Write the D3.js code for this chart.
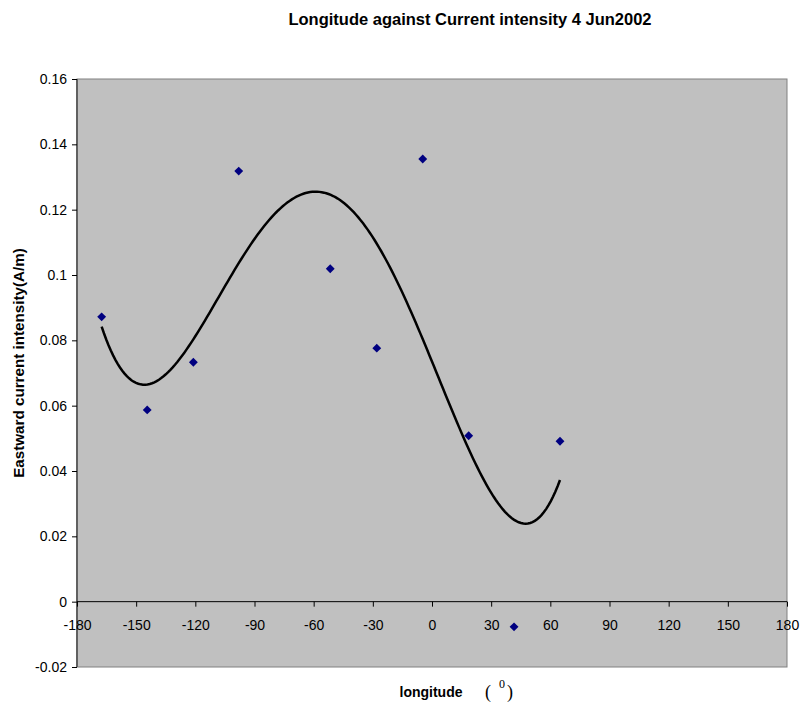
<!DOCTYPE html>
<html><head><meta charset="utf-8">
<script src="https://cdn.jsdelivr.net/npm/d3@7"></script>
<style>body{margin:0;background:#fff}svg{display:block}</style>
</head><body>
<svg id="c" width="801" height="706"></svg>
<script>
const longitudes = [-167.5, -144.4, -121.0, -98.0, -51.6, -28.0, -4.7, 18.6, 41.6, 64.9];
const intensities = [0.0872, 0.0587, 0.0733, 0.1318, 0.1019, 0.0776, 0.1355, 0.0508, -0.0077, 0.0491];
const xTicks = [-180, -150, -120, -90, -60, -30, 0, 30, 60, 90, 120, 150, 180];
const yTicks = [-0.02, 0, 0.02, 0.04, 0.06, 0.08, 0.1, 0.12, 0.14, 0.16];
const trendDegree = 4;

const svg = d3.select("#c");
const L = 77, R = 787, T = 79, B = 667;
const x = d3.scaleLinear().domain([-180, 180]).range([L, R]);
const y = d3.scaleLinear().domain([-0.02, 0.16]).range([B, T]);
const FONT = "'Liberation Sans', Arial, sans-serif";

// plot area
svg.append("rect").attr("x", L).attr("y", T).attr("width", R - L).attr("height", B - T)
  .attr("fill", "#c0c0c0").attr("stroke", "#808080").attr("stroke-width", 1);
svg.append("line").attr("x1", L).attr("x2", L).attr("y1", T).attr("y2", B)
  .attr("stroke", "#606060").attr("stroke-width", 2);

// y axis
const yAx = svg.append("g").attr("transform", `translate(${L},0)`)
  .call(d3.axisLeft(y).tickValues(yTicks).tickSize(5).tickPadding(5)
    .tickFormat(d => d === 0 ? "0" : String(+d.toFixed(2))));
yAx.select(".domain").remove();
yAx.selectAll("line").attr("stroke", "#000");
yAx.selectAll("text").attr("font-family", FONT).attr("font-size", 14).attr("fill", "#000");

// x axis on zero line
const xAx = svg.append("g").attr("transform", `translate(0,${y(0)})`)
  .call(d3.axisBottom(x).tickValues(xTicks).tickSize(5).tickPadding(13).tickFormat(d => String(d)));
xAx.select(".domain").attr("stroke", "#000").attr("d", `M${L},0H${R}`);
xAx.selectAll("line").attr("stroke", "#000");
xAx.selectAll("text").attr("font-family", FONT).attr("font-size", 14).attr("fill", "#000");

// polynomial least squares trendline
function polyfit(xs, ys, deg) {
  const n = deg + 1;
  const A = Array.from({length: n}, () => new Array(n + 1).fill(0));
  for (let k = 0; k < xs.length; k++) {
    const xv = xs[k] / 100;
    for (let i = 0; i < n; i++) {
      for (let j = 0; j < n; j++) A[i][j] += Math.pow(xv, i + j);
      A[i][n] += ys[k] * Math.pow(xv, i);
    }
  }
  for (let i = 0; i < n; i++) {
    let p = i;
    for (let r = i + 1; r < n; r++) if (Math.abs(A[r][i]) > Math.abs(A[p][i])) p = r;
    [A[i], A[p]] = [A[p], A[i]];
    for (let r = 0; r < n; r++) {
      if (r === i) continue;
      const f = A[r][i] / A[i][i];
      for (let c = i; c <= n; c++) A[r][c] -= f * A[i][c];
    }
  }
  const coef = A.map((row, i) => row[n] / row[i]);
  return xv => coef.reduce((s, c, i) => s + c * Math.pow(xv / 100, i), 0);
}
const f = polyfit(longitudes, intensities, trendDegree);
const x0 = d3.min(longitudes), x1 = d3.max(longitudes);
const curve = d3.range(0, 201).map(i => x0 + (x1 - x0) * i / 200);
svg.append("path").datum(curve)
  .attr("d", d3.line().x(d => x(d)).y(d => y(f(d))))
  .attr("fill", "none").attr("stroke", "#000").attr("stroke-width", 2.5);

// markers
svg.append("g").selectAll("path").data(longitudes).join("path")
  .attr("transform", (d, i) => `translate(${x(d)},${y(intensities[i])})`)
  .attr("d", d3.symbol().type(d3.symbolDiamond2).size(50))
  .attr("fill", "#000080");

// titles
svg.append("text").attr("x", 470).attr("y", 25).attr("text-anchor", "middle")
  .attr("font-family", FONT).attr("font-weight", "bold").attr("font-size", 16.5)
  .text("Longitude against Current intensity 4 Jun2002");
svg.append("text").attr("transform", "translate(24,363) rotate(-90)").attr("text-anchor", "middle")
  .attr("font-family", FONT).attr("font-weight", "bold").attr("font-size", 15.2)
  .text("Eastward current intensity(A/m)");
svg.append("text").attr("x", 431).attr("y", 697).attr("text-anchor", "middle")
  .attr("font-family", FONT).attr("font-weight", "bold").attr("font-size", 14)
  .text("longitude");
const SERIF = "'Liberation Serif', 'Times New Roman', serif";
svg.append("text").attr("x", 485).attr("y", 698).attr("font-family", SERIF).attr("font-size", 18).text("(");
svg.append("text").attr("x", 499).attr("y", 688).attr("font-family", SERIF).attr("font-size", 12).text("0");
svg.append("text").attr("x", 507).attr("y", 698).attr("font-family", SERIF).attr("font-size", 18).text(")");
</script>
</body></html>
